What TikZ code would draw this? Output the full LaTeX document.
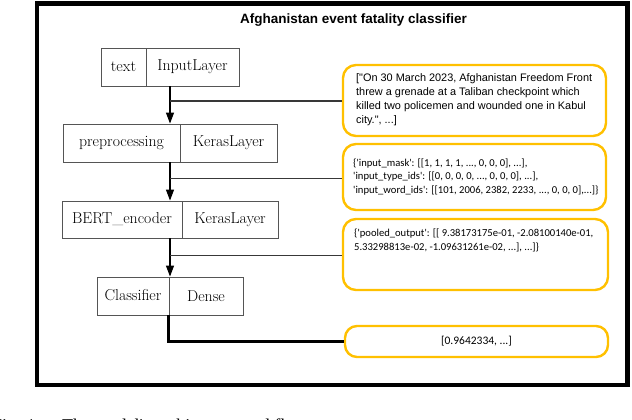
\documentclass[tikz,border=0pt]{standalone}
\usepackage{fontspec}
\newfontfamily\arialf{Liberation Sans}
\newfontfamily\calibf{Carlito}
\newfontfamily\timesf{Liberation Serif}
\usetikzlibrary{arrows.meta}
\definecolor{gold}{HTML}{FFC000}
\definecolor{branchgray}{HTML}{383838}
\definecolor{cellgray}{HTML}{555555}
\newcommand{\myq}{\textquotesingle}
\begin{document}
\begin{tikzpicture}[x=1pt,y=-1pt,
  cell/.style={draw=cellgray, line width=0.9pt, minimum height=38pt, inner sep=0pt, font=\fontsize{15.8}{18}\selectfont},
  outbox/.style={draw=gold, line width=2.4pt, rounded corners=13pt, inner sep=0pt},
  outtext/.style={inner sep=0pt, align=left},
  flow/.style={draw=black, line width=1.3pt, -{Triangle[length=11pt,width=8pt]}},
  branch/.style={draw=branchgray, line width=1.9pt},
  result/.style={draw=black, line width=2.3pt},
]
\useasboundingbox (0,0) rectangle (632,420);
\fill[white] (0,0) rectangle (632,420);
% outer frame
\node[draw=black, line width=4.5pt, minimum width=590.5pt, minimum height=381.5pt, inner sep=0pt] (frame) at (332.25,194.25) {};
% title
\node[font=\arialf\bfseries\fontsize{13.5}{16}\selectfont, inner sep=0pt] (title) at (353.5,20) {Afghanistan event fatality classifier};

% layer nodes
\node[cell, minimum width=45pt] (n1a) at (123.5,67) {text};
\node[cell, minimum width=93pt] (n1b) at (192.5,67) {InputLayer};
\node[cell, minimum width=117pt] (n2a) at (121.5,143) {preprocessing};
\node[cell, minimum width=97pt] (n2b) at (228.5,143) {KerasLayer};
\node[cell, minimum width=120pt, minimum height=37pt] (n3a) at (122,219.5) {BERT\_encoder};
\node[cell, minimum width=96pt, minimum height=37pt] (n3b) at (230,219.5) {KerasLayer};
\node[cell, minimum width=72pt] (n4a) at (133,296) {\raisebox{1.5pt}{Classifier}};
\node[cell, minimum width=74pt] (n4b) at (206,296) {Dense};

% output boxes
\node[outbox, minimum width=263pt, minimum height=71pt] (o1) at (474.5,100.5) {};
\node[outbox, minimum width=263pt, minimum height=66pt] (o2) at (474.5,177) {};
\node[outbox, minimum width=265pt, minimum height=71pt] (o3) at (475.5,254.5) {};
\node[outbox, minimum width=263pt, minimum height=31pt, rounded corners=12pt] (o4) at (476.5,341.5) {};

\node[outtext, anchor=west, font=\arialf\fontsize{10.9}{14}\selectfont] (t1) at (356,100)
  {["On 30 March 2023, Afghanistan Freedom Front\\threw a grenade at a Taliban checkpoint which\\killed two policemen and wounded one in Kabul\\city.", ...]};
\node[outtext, anchor=west, font=\calibf\fontsize{10.6}{13.4}\selectfont] (t2) at (353,176.7)
  {\{\myq input\_mask\myq: [[1, 1, 1, 1, ..., 0, 0, 0], ...],\\\myq input\_type\_ids\myq: [[0, 0, 0, 0, ..., 0, 0, 0], ...],\\\myq input\_word\_ids\myq: [[101, 2006, 2382, 2233, ..., 0, 0, 0],...]\}};
\node[outtext, anchor=west, font=\calibf\fontsize{10.6}{14.4}\selectfont] (t3) at (354,240.5)
  {\{\myq pooled\_output\myq: [[ 9.38173175e-01, -2.08100140e-01,\\5.33298813e-02, -1.09631261e-02, ...], ...]\}};
\node[outtext, font=\calibf\fontsize{11.5}{14}\selectfont] (t4) at (o4.center) {[0.9642334, ...]};

% flow coordinates
\coordinate (ax) at (170,0);
\coordinate (b1) at (170,101);
\coordinate (b2) at (170,178.5);
\coordinate (b3) at (170,255.5);

\draw[flow] (n1b.south -| ax) -- (n2a.north -| ax);
\draw[flow] (n2a.south -| ax) -- (n3a.north -| ax);
\draw[flow] (n3a.south -| ax) -- (n4a.north -| ax);

\draw[branch] (b1) -- (o1.west |- b1);
\draw[branch] (b2) -- (o2.west |- b2);
\draw[branch] (b3) -- (o3.west |- b3);

\draw[result] (n4b.south west) |- (o4.west);

% caption (cut off at the bottom edge, as in the reference)
\begin{scope}
\clip (0,0) rectangle (632,420);
\node[anchor=base west, inner sep=0pt, font=\timesf\fontsize{18}{20}\selectfont] (cap1) at (-8,431) {Fig. 1.};
\node[anchor=base west, inner sep=0pt, font=\timesf\fontsize{18}{20}\selectfont] (cap2) at (62,431) {The model's architecture and flow};
\end{scope}
\end{tikzpicture}
\end{document}
